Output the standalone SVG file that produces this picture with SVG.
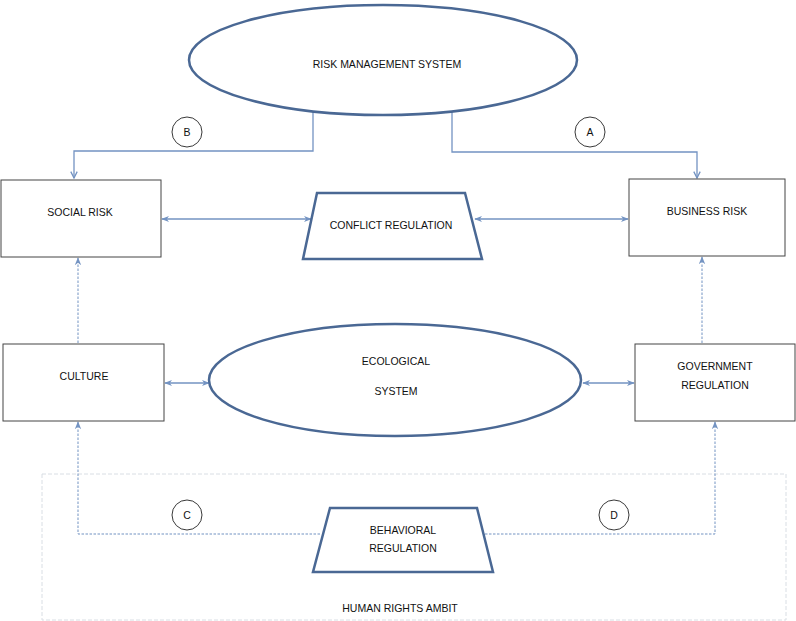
<svg xmlns="http://www.w3.org/2000/svg" width="796" height="621" viewBox="0 0 796 621">
<style>
text{font-family:"Liberation Sans","DejaVu Sans",sans-serif;font-size:10.5px;fill:#111;text-anchor:middle}
.thick{fill:#fff;stroke:#4a6894;stroke-width:2.5}
.box{fill:#fff;stroke:#444;stroke-width:1}
.circ{fill:#fff;stroke:#222;stroke-width:0.9}
.con{fill:none;stroke:#7393c2;stroke-width:1.3}
.dash{fill:none;stroke:#7393c2;stroke-width:1;stroke-dasharray:2.5,1.5}
.ambit{fill:none;stroke:#d9dee4;stroke-width:1;stroke-dasharray:4,2}
</style>
<defs>
<marker id="ah" viewBox="0 0 10 10" refX="9" refY="5" markerWidth="8" markerHeight="8" orient="auto-start-reverse" markerUnits="userSpaceOnUse">
<path d="M1,1 L9,5 L1,9" fill="none" stroke="#7393c2" stroke-width="1.6"/>
</marker>
<marker id="tri" viewBox="0 0 10 10" refX="9" refY="5" markerWidth="8" markerHeight="8" orient="auto-start-reverse" markerUnits="userSpaceOnUse">
<path d="M0,1 L10,5 L0,9 L3,5 Z" fill="#7393c2"/>
</marker>
</defs>
<g id="ambit">
<rect x="42" y="474" width="744" height="146" class="ambit"/>
<text x="400" y="612">HUMAN RIGHTS AMBIT</text>
</g>
<g id="connectors">
<path class="con" d="M313,109 V151 H74 V178" marker-end="url(#ah)"/>
<path class="con" d="M452,110 V152 H697 V178" marker-end="url(#ah)"/>
<path class="con" d="M162,219 H311" marker-start="url(#tri)" marker-end="url(#tri)"/>
<path class="con" d="M475,219 H628" marker-start="url(#tri)" marker-end="url(#tri)"/>
<path class="con" d="M165,383 H209" marker-start="url(#tri)" marker-end="url(#tri)"/>
<path class="con" d="M583,383 H634" marker-start="url(#tri)" marker-end="url(#tri)"/>
<path class="dash" d="M78,343 V258" marker-end="url(#tri)"/>
<path class="dash" d="M702,343 V257" marker-end="url(#tri)"/>
<path class="dash" d="M320,534 H78 V422" marker-end="url(#tri)"/>
<path class="dash" d="M481,534 H715 V422" marker-end="url(#tri)"/>
</g>
<g id="risk-management-system">
<ellipse cx="383" cy="60" rx="194" ry="55" class="thick"/>
<text x="387" y="68">RISK MANAGEMENT SYSTEM</text>
</g>
<g id="label-b"><circle cx="187" cy="132" r="15" class="circ"/><text x="187" y="136">B</text></g>
<g id="label-a"><circle cx="590" cy="132" r="15" class="circ"/><text x="590" y="136">A</text></g>
<g id="label-c"><circle cx="187" cy="515" r="15" class="circ"/><text x="187" y="519">C</text></g>
<g id="label-d"><circle cx="614" cy="515" r="15" class="circ"/><text x="614" y="519">D</text></g>
<g id="social-risk">
<rect x="1" y="180" width="160" height="77" class="box"/>
<text x="80" y="216">SOCIAL RISK</text>
</g>
<g id="business-risk">
<rect x="629" y="179" width="156" height="77" class="box"/>
<text x="707" y="215">BUSINESS RISK</text>
</g>
<g id="conflict-regulation">
<polygon points="317,193 465,193 482,259 303,259" class="thick"/>
<text x="391" y="229">CONFLICT REGULATION</text>
</g>
<g id="culture">
<rect x="3" y="344" width="161" height="77" class="box"/>
<text x="84" y="380">CULTURE</text>
</g>
<g id="government-regulation">
<rect x="635" y="344" width="160" height="77" class="box"/>
<text x="715" y="370">GOVERNMENT</text>
<text x="715" y="389">REGULATION</text>
</g>
<g id="ecological-system">
<ellipse cx="395" cy="380" rx="186" ry="56" class="thick"/>
<text x="396" y="365">ECOLOGICAL</text>
<text x="396" y="395">SYSTEM</text>
</g>
<g id="behavioral-regulation">
<polygon points="330,508 477,508 493,572 313,572" class="thick"/>
<text x="403" y="534">BEHAVIORAL</text>
<text x="403" y="552">REGULATION</text>
</g>
</svg>
